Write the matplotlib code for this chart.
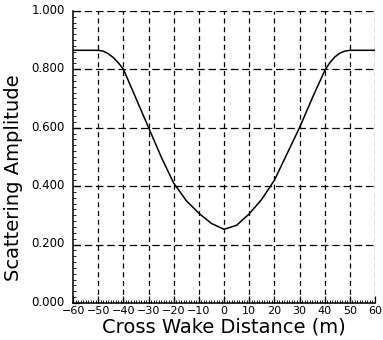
import numpy as np
import matplotlib.pyplot as plt
import matplotlib.transforms as mtransforms
from matplotlib.ticker import MultipleLocator

# scattering amplitude across the wake
distance = [-60, -50, -48, -46, -44, -42, -40, -35, -30, -25, -20, -15, -10, -5, 0,
            5, 10, 15, 20, 25, 30, 35, 40, 42, 44, 46, 48, 50, 60]
amplitude = [0.865, 0.865, 0.862, 0.853, 0.840, 0.822, 0.800, 0.700, 0.600, 0.500, 0.410,
             0.350, 0.307, 0.272, 0.252, 0.266, 0.305, 0.355, 0.420, 0.510, 0.600,
             0.700, 0.795, 0.822, 0.842, 0.855, 0.862, 0.865, 0.865]

x_ticks = list(range(-60, 61, 10))
y_ticks = [0.0, 0.2, 0.4, 0.6, 0.8, 1.0]

fig = plt.figure(figsize=(3.83, 3.40), dpi=100)
ax = fig.add_axes([0.191, 0.109, 0.788, 0.859])

ax.plot(distance, amplitude, color='black', lw=1.1)

ax.set_xlim(-60, 60)
ax.set_ylim(0, 1.0)
ax.set_xticks(x_ticks)
ax.set_yticks(y_ticks)
ax.set_xticklabels([str(t).replace('-', '\u2212') for t in x_ticks])
ax.set_yticklabels(['%.3f' % t for t in y_ticks])
ax.xaxis.set_minor_locator(MultipleLocator(1))
ax.yaxis.set_minor_locator(MultipleLocator(0.02))

ax.tick_params(which='both', direction='in', top=False, right=False, labelsize=8)
ax.tick_params(axis='y', labelsize=8.5, pad=6)
ax.tick_params(axis='x', pad=2)
ax.tick_params(which='major', length=5, width=0.9)
ax.tick_params(which='minor', length=2.5, width=0.6)

# y labels sit a little above their ticks
shift = mtransforms.ScaledTranslation(0, 1.5 / 72, fig.dpi_scale_trans)
for lab in ax.get_yticklabels():
    lab.set_transform(lab.get_transform() + shift)

# dashed grid, including the top and right edges
for t in x_ticks[1:]:
    ax.axvline(t, color='black', lw=0.9, ls=(0, (4, 3)), zorder=1)
for t in y_ticks[1:]:
    ax.axhline(t, color='black', lw=0.9, ls=(0, (6, 3)), zorder=1)

ax.spines['top'].set_visible(False)
ax.spines['right'].set_visible(False)
ax.spines['left'].set_linewidth(1.1)
ax.spines['bottom'].set_linewidth(1.1)

ax.set_xlabel('Cross Wake Distance (m)', fontsize=14, labelpad=1)
ax.set_ylabel('Scattering Amplitude', fontsize=14)
ax.yaxis.set_label_coords(-0.165, 0.43)

fig.savefig('out.png', dpi=100)
